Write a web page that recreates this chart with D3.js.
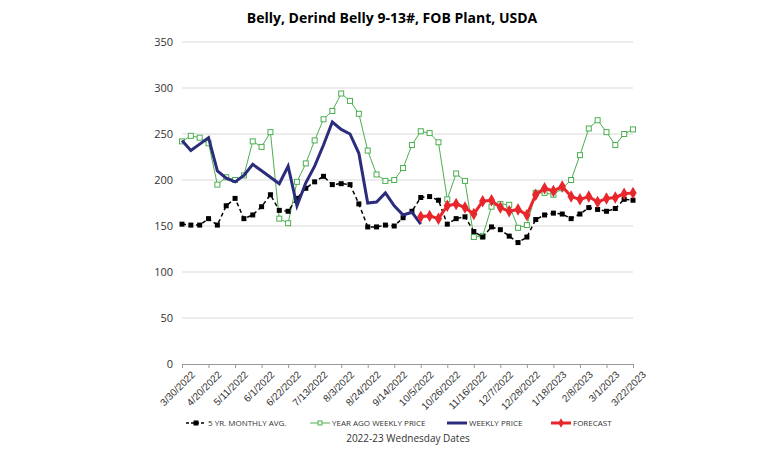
<!DOCTYPE html>
<html><head><meta charset="utf-8">
<script src="https://cdn.jsdelivr.net/npm/d3@7"></script>
<style>body{margin:0;background:#fff;font-family:"Open Sans",sans-serif}</style>
</head><body><svg id="c" width="784" height="450"></svg>
<script>
const startDate = new Date(2022, 2, 30);
const fiveYrAvg = [152,151,151,158,151,172,180,158,162,171,184,167,166,180,191,198,204,195,196,195,174,149,149,151,150,
  159,166,181,182,178,152,158,160,144,138,149,146,139,132,138,157,162,164,163,158,163,170,168,166,169,179,178];
const yearAgo = [242,248,246,240,195,203,200,205,242,236,252,158,153,198,218,243,266,275,294,286,272,232,206,199,200,
  213,238,253,251,241,179,207,199,138,139,171,174,173,148,151,186,186,184,191,200,227,256,265,252,238,250,255];
const weekly = [243,232,239,246,210,202,198,205,217,210,203,196,215,172,197,215,238,263,255,250,229,175,176,186,172,162,165,152];
const forecast = [160,161,158,172,174,170,163,177,178,170,166,168,162,184,191,188,193,182,179,182,176,180,181,185,186];
const forecastStart = 27;
const yTicks = [0,50,100,150,200,250,300,350];

const svg = d3.select("#c");
const x = d3.scaleLinear().domain([0, 51]).range([182, 633]);
const y = d3.scaleLinear().domain([0, 350]).range([364, 42]);
const dateOf = i => d3.timeDay.offset(startDate, 7 * i);
const fmt = d => (d.getMonth() + 1) + "/" + d.getDate() + "/" + d.getFullYear();

svg.append("text").attr("x", 392).attr("y", 23).attr("text-anchor", "middle")
  .attr("font-size", 14).attr("font-weight", "bold").text("Belly, Derind Belly 9-13#, FOB Plant, USDA");

// gridlines and y labels
svg.append("g").selectAll("line").data(yTicks.slice(1)).join("line")
  .attr("x1", 182).attr("x2", 633).attr("y1", d => y(d)).attr("y2", d => y(d))
  .attr("stroke", "#d9d9d9");
svg.append("g").selectAll("text").data(yTicks).join("text")
  .attr("x", 173).attr("y", d => y(d) + 4).attr("text-anchor", "end")
  .attr("font-size", 11).attr("fill", "#333").text(d => d);

// x axis
const xa = svg.append("g").attr("transform", "translate(0,364)")
  .call(d3.axisBottom(x).tickValues(d3.range(0, 52, 3)).tickSize(4).tickFormat(i => fmt(dateOf(i))));
xa.select(".domain").attr("stroke", "#999");
xa.selectAll(".tick line").attr("stroke", "#999");
xa.selectAll("text").attr("font-size", 10).attr("fill", "#333")
  .attr("text-anchor", "end").attr("transform", "translate(4,2) rotate(-45)").attr("dx", 0).attr("dy", "0.6em");

const line = d3.line().x(d => x(d[0])).y(d => y(d[1]));
const pts = (arr, off) => arr.map((v, i) => [i + off, v]);

// green
svg.append("path").attr("d", line(pts(yearAgo, 0))).attr("fill", "none").attr("stroke", "#4caf50").attr("stroke-width", 1);
svg.append("g").selectAll("rect").data(pts(yearAgo, 0)).join("rect")
  .attr("x", d => x(d[0]) - 2.5).attr("y", d => y(d[1]) - 2.5).attr("width", 5).attr("height", 5)
  .attr("fill", "#fff").attr("stroke", "#4caf50").attr("stroke-width", 1);
// black
svg.append("path").attr("d", line(pts(fiveYrAvg, 0))).attr("fill", "none").attr("stroke", "#000")
  .attr("stroke-width", 1.5).attr("stroke-dasharray", "4,3");
svg.append("g").selectAll("rect").data(pts(fiveYrAvg, 0)).join("rect")
  .attr("x", d => x(d[0]) - 2.5).attr("y", d => y(d[1]) - 2.5).attr("width", 5).attr("height", 5).attr("fill", "#000");
// blue
svg.append("path").attr("d", line(pts(weekly, 0))).attr("fill", "none").attr("stroke", "#2b2d7c").attr("stroke-width", 3);
// red
svg.append("path").attr("d", line(pts(forecast, forecastStart))).attr("fill", "none").attr("stroke", "#e8262b").attr("stroke-width", 3);
svg.append("g").selectAll("path").data(pts(forecast, forecastStart)).join("path")
  .attr("d", d3.symbol(d3.symbolDiamond, 45)).attr("transform", d => `translate(${x(d[0])},${y(d[1])})`).attr("fill", "#e8262b");

// legend
const lg = svg.append("g").attr("font-size", 8).attr("fill", "#333");
const items = [
  {n: "5 YR. MONTHLY AVG.", x: 186, c: "#000", w: 1.5, dash: "3,2", m: "sq"},
  {n: "YEAR AGO WEEKLY PRICE", x: 310, c: "#4caf50", w: 1, m: "osq"},
  {n: "WEEKLY PRICE", x: 447, c: "#2b2d7c", w: 3},
  {n: "FORECAST", x: 551, c: "#e8262b", w: 3, m: "dia"}
];
items.forEach(it => {
  lg.append("line").attr("x1", it.x).attr("x2", it.x + 20).attr("y1", 423).attr("y2", 423)
    .attr("stroke", it.c).attr("stroke-width", it.w).attr("stroke-dasharray", it.dash || null);
  if (it.m === "sq") lg.append("rect").attr("x", it.x + 7.5).attr("y", 420.5).attr("width", 5).attr("height", 5).attr("fill", "#000");
  if (it.m === "osq") lg.append("rect").attr("x", it.x + 8).attr("y", 421).attr("width", 4).attr("height", 4).attr("fill", "#fff").attr("stroke", it.c);
  if (it.m === "dia") lg.append("path").attr("d", d3.symbol(d3.symbolDiamond, 25)).attr("transform", `translate(${it.x + 10},423)`).attr("fill", it.c);
  lg.append("text").attr("x", it.x + 22).attr("y", 426).text(it.n);
});
svg.append("text").attr("x", 408).attr("y", 442).attr("text-anchor", "middle").attr("font-size", 10)
  .attr("fill", "#333").text("2022-23 Wednesday Dates");
</script></body></html>
